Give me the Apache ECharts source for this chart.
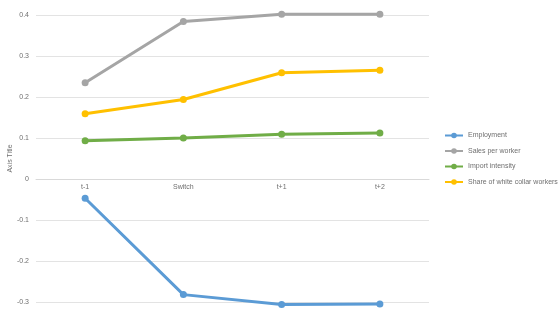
<!DOCTYPE html>
<html><head><meta charset="utf-8">
<script src="https://cdn.jsdelivr.net/npm/echarts@6/dist/echarts.min.js"></script>
<style>html,body{margin:0;padding:0;background:#fff}#c{width:560px;height:315px}</style>
</head><body><div id="c"></div>
<script>
const categories = ['t-1', 'Switch', 't+1', 't+2'];
const employment = [-0.047, -0.282, -0.306, -0.305];
const salesPerWorker = [0.235, 0.384, 0.402, 0.402];
const importIntensity = [0.093, 0.100, 0.109, 0.112];
const whiteCollarShare = [0.159, 0.194, 0.259, 0.265];
const yTicks = [-0.3, -0.2, -0.1, 0, 0.1, 0.2, 0.3, 0.4];

const font = 'Liberation Sans';
const txt = '#6f6f6f';
const chart = echarts.init(document.getElementById('c'), null, {renderer: 'canvas'});
function s(name, data, color) {
  return {name, type: 'line', data, symbol: 'circle', symbolSize: 7, clip: false,
    lineStyle: {width: 3, color}, itemStyle: {color}, z: 3};
}
chart.setOption({
  animation: false,
  grid: {left: 36, right: 131, top: 15, bottom: 13, containLabel: false, outerBoundsMode: 'none'},
  legend: {orient: 'vertical', left: 444, top: 132, padding: 0, itemGap: 8.5, itemWidth: 18, itemHeight: 7,
    textStyle: {fontFamily: font, fontSize: 7, color: txt},
    data: ['Employment', 'Sales per worker', 'Import intensity', 'Share of white collar workers']},
  xAxis: {type: 'category', data: categories, boundaryGap: true, position: 'bottom', offset: -123,
    axisLine: {onZero: false, lineStyle: {color: '#d9d9d9', width: 1}},
    axisTick: {show: false},
    axisLabel: {fontFamily: font, fontSize: 7, color: txt, margin: 5}},
  yAxis: {type: 'value', min: yTicks[0], max: yTicks[yTicks.length-1], interval: 0.1,
    name: 'Axis Title', nameLocation: 'middle', nameGap: 22, nameRotate: 90, nameMoveOverlap: false,
    nameTextStyle: {fontFamily: font, fontSize: 7, color: txt},
    axisLine: {show: false}, axisTick: {show: false},
    axisLabel: {fontFamily: font, fontSize: 7, color: txt, margin: 7,
      formatter: v => { const r = Math.round(v*10)/10; return r === 0 ? '0' : String(r); }},
    splitLine: {lineStyle: {color: '#e3e3e3', width: 1}}},
  series: [
    s('Employment', employment, '#5B9BD5'),
    s('Sales per worker', salesPerWorker, '#A5A5A5'),
    s('Import intensity', importIntensity, '#70AD47'),
    s('Share of white collar workers', whiteCollarShare, '#FFC000')
  ]
});
</script></body></html>
